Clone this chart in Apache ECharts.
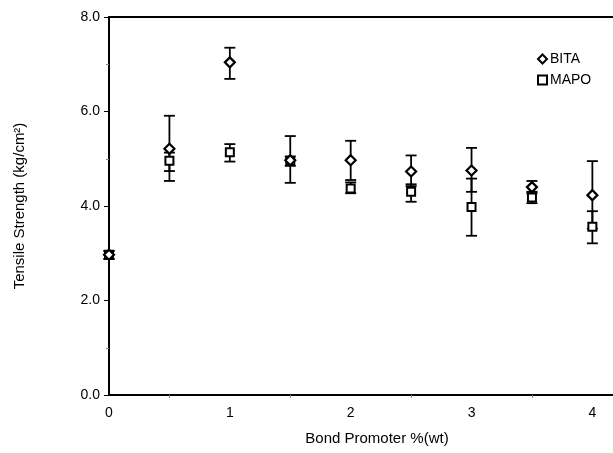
<!DOCTYPE html>
<html>
<head>
<meta charset="utf-8">
<script src="https://cdn.jsdelivr.net/npm/echarts@6/dist/echarts.min.js"></script>
<style>html,body{margin:0;padding:0;background:#fff;overflow:hidden;width:613px;height:453px;}#c{width:625px;height:453px;}</style>
</head>
<body>
<div id="c"></div>
<script>
const xs = [0, 0.5, 1, 1.5, 2, 2.5, 3, 3.5, 4];
const bitaMean = [2.97, 5.21, 7.04, 4.97, 4.97, 4.73, 4.75, 4.40, 4.23];
const bitaHigh = [3.05, 5.91, 7.35, 5.48, 5.38, 5.07, 5.23, 4.53, 4.95];
const bitaLow  = [2.88, 4.53, 6.69, 4.49, 4.55, 4.42, 4.30, 4.27, 3.52];
const mapoMean = [2.97, 4.96, 5.14, 4.95, 4.37, 4.30, 3.98, 4.18, 3.56];
const mapoHigh = [3.05, 5.13, 5.31, 5.05, 4.50, 4.46, 4.58, 4.30, 3.89];
const mapoLow  = [2.88, 4.74, 4.94, 4.85, 4.27, 4.09, 3.37, 4.06, 3.21];

const font = 'Liberation Sans, Arial, sans-serif';

function errItem(params, api) {
  const x = api.value(0), lo = api.value(1), hi = api.value(2);
  const p1 = api.coord([x, hi]), p2 = api.coord([x, lo]);
  const w = 5.5;
  const st = {stroke: '#000', lineWidth: 1.8};
  return {type: 'group', children: [
    {type: 'line', shape: {x1: p1[0], y1: p1[1], x2: p2[0], y2: p2[1]}, style: st},
    {type: 'line', shape: {x1: p1[0] - w, y1: p1[1], x2: p1[0] + w, y2: p1[1]}, style: st},
    {type: 'line', shape: {x1: p2[0] - w, y1: p2[1], x2: p2[0] + w, y2: p2[1]}, style: st}
  ]};
}

const chart = echarts.init(document.getElementById('c'));
chart.setOption({
  backgroundColor: '#fff',
  animation: false,
  grid: {left: 109, right: 0, top: 17, bottom: 58},
  legend: {
    data: ['BITA', 'MAPO'], orient: 'vertical', left: 532, top: 47,
    itemWidth: 9, itemHeight: 9, itemGap: 7,
    textStyle: {fontFamily: font, fontSize: 14, color: '#000', padding: [0, 0, 0, -2]}
  },
  xAxis: [{
    type: 'value', min: 0, max: 4.27, interval: 1,
    name: 'Bond Promoter %(wt)', nameLocation: 'middle', nameGap: 36,
    nameTextStyle: {fontFamily: font, fontSize: 15, color: '#000', padding: [0, 0, 0, 20]},
    axisLine: {show: true, lineStyle: {color: '#000', width: 2}},
    axisTick: {show: false},
    minorTick: {show: true, splitNumber: 2, length: 3, lineStyle: {color: '#888'}},
    splitLine: {show: false},
    axisLabel: {fontFamily: font, fontSize: 14, color: '#000', margin: 11, showMaxLabel: false,
      formatter: v => String(v)}
  }, {
    type: 'value', min: 0, max: 4.27, position: 'top',
    axisLine: {show: true, lineStyle: {color: '#000', width: 2}},
    axisTick: {show: false}, axisLabel: {show: false}, splitLine: {show: false}
  }],
  yAxis: {
    type: 'value', min: 0, max: 8, interval: 2,
    name: 'Tensile Strength (kg/cm²)', nameLocation: 'middle', nameGap: 82,
    nameTextStyle: {fontFamily: font, fontSize: 15, color: '#000'},
    axisLine: {show: true, lineStyle: {color: '#000', width: 2}},
    axisTick: {show: true, length: 5, lineStyle: {color: '#000'}},
    minorTick: {show: true, splitNumber: 2, length: 3, lineStyle: {color: '#888'}},
    splitLine: {show: false},
    axisLabel: {fontFamily: font, fontSize: 14, color: '#000', margin: 9, formatter: v => v.toFixed(1)}
  },
  series: [
    {name: 'BITA err', type: 'custom', renderItem: errItem, encode: {x: 0, y: [1, 2]}, z: 2,
      data: xs.map((x, i) => [x, bitaLow[i], bitaHigh[i]]), silent: true},
    {name: 'MAPO err', type: 'custom', renderItem: errItem, encode: {x: 0, y: [1, 2]}, z: 2,
      data: xs.map((x, i) => [x, mapoLow[i], mapoHigh[i]]), silent: true},
    {name: 'MAPO', type: 'scatter', symbol: 'rect', symbolSize: 8, z: 3,
      itemStyle: {color: '#fff', borderColor: '#000', borderWidth: 2, opacity: 1},
      data: xs.map((x, i) => [x, mapoMean[i]])},
    {name: 'BITA', type: 'scatter', symbol: 'diamond', symbolSize: 10, z: 4,
      itemStyle: {color: '#fff', borderColor: '#000', borderWidth: 2.2, opacity: 1},
      data: xs.map((x, i) => [x, bitaMean[i]])}
  ]
});
</script>
</body>
</html>
